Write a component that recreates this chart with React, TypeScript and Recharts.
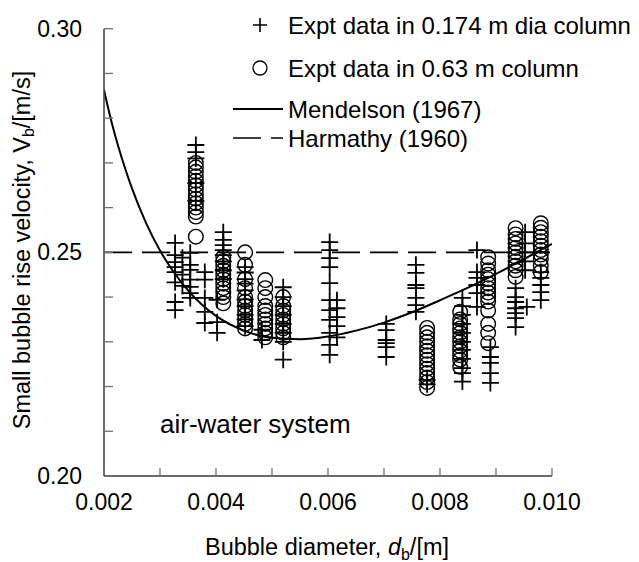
import React from 'react';
import { ComposedChart, Scatter, Line, XAxis, YAxis, Customized } from 'recharts';

const FONT = '"Liberation Sans", Arial, Helvetica, sans-serif';

// Axis ticks
const xTicks = [0.002, 0.003, 0.004, 0.005, 0.006, 0.007, 0.008, 0.009, 0.01];
const xTickLabels = ['0.002', '', '0.004', '', '0.006', '', '0.008', '', '0.010'];
const yTicks = [0.2, 0.21, 0.22, 0.23, 0.24, 0.25, 0.26, 0.27, 0.28, 0.29, 0.3];
const yTickLabels = ['0.20', '', '', '', '', '0.25', '', '', '', '', '0.30'];

// Expt data in 0.174 m dia column  [d (m), Vb (m/s)]
const plus174: [number, number][] = [
  [0.00327, 0.2521], [0.00327, 0.2494], [0.00327, 0.2478], [0.00327, 0.2467], [0.00327, 0.2456],
  [0.00327, 0.2433], [0.00327, 0.2389], [0.00327, 0.2371],
  [0.0034, 0.2488], [0.0034, 0.245], [0.0034, 0.2425],
  [0.00354, 0.2499], [0.00354, 0.2472], [0.00354, 0.2461], [0.00354, 0.2439], [0.00354, 0.2423],
  [0.00354, 0.2409], [0.00354, 0.2398],
  [0.00364, 0.274], [0.00364, 0.2724], [0.00364, 0.271], [0.00364, 0.2655], [0.00364, 0.2615],
  [0.0038, 0.2456], [0.0038, 0.2439], [0.0038, 0.2398], [0.0038, 0.2367], [0.0038, 0.2342],
  [0.00402, 0.2394], [0.00402, 0.2344], [0.00402, 0.232],
  [0.00413, 0.2545], [0.00413, 0.2528], [0.00413, 0.2516], [0.00413, 0.2505], [0.00413, 0.2494],
  [0.00413, 0.248], [0.00413, 0.246], [0.00413, 0.244],
  [0.00452, 0.2467], [0.00452, 0.2455], [0.00452, 0.244], [0.00452, 0.243], [0.00452, 0.2415],
  [0.00452, 0.2395], [0.00452, 0.238], [0.00452, 0.236], [0.00452, 0.235], [0.00452, 0.2335],
  [0.00482, 0.2327], [0.00482, 0.2304],
  [0.0052, 0.2422], [0.0052, 0.24], [0.0052, 0.238], [0.0052, 0.236], [0.0052, 0.234],
  [0.0052, 0.232], [0.0052, 0.23], [0.0052, 0.226],
  [0.00603, 0.2523], [0.00603, 0.2505], [0.00603, 0.2487], [0.00603, 0.2467], [0.00603, 0.2431],
  [0.00603, 0.2393], [0.00603, 0.2371], [0.00603, 0.2349], [0.00603, 0.232], [0.00603, 0.2293],
  [0.00603, 0.2271],
  [0.00616, 0.2393], [0.00616, 0.2375], [0.00616, 0.2355], [0.00616, 0.2335], [0.00616, 0.231],
  [0.00704, 0.234], [0.00704, 0.2326], [0.00704, 0.2304], [0.00704, 0.2297], [0.00704, 0.2288],
  [0.00704, 0.2266],
  [0.00757, 0.2472], [0.00757, 0.2454], [0.00757, 0.2427], [0.00757, 0.242], [0.00757, 0.2398],
  [0.00757, 0.2382], [0.00757, 0.2367],
  [0.00777, 0.2215], [0.00777, 0.2205],
  [0.0084, 0.2398], [0.0084, 0.238], [0.0084, 0.236], [0.0084, 0.234], [0.0084, 0.232],
  [0.0084, 0.23], [0.0084, 0.2282], [0.0084, 0.2262], [0.0084, 0.2241], [0.0084, 0.223], [0.0084, 0.2211],
  [0.00866, 0.2505], [0.00866, 0.2456], [0.00866, 0.2443], [0.00866, 0.2427], [0.00866, 0.2409],
  [0.00866, 0.2378],
  [0.0089, 0.2288], [0.0089, 0.2266], [0.0089, 0.2253], [0.0089, 0.223], [0.0089, 0.2208],
  [0.00935, 0.242], [0.00935, 0.24], [0.00935, 0.2389], [0.00935, 0.2375], [0.00935, 0.2364],
  [0.00935, 0.2353], [0.00935, 0.2333],
  [0.00952, 0.2545], [0.00952, 0.252], [0.00952, 0.25], [0.00952, 0.248], [0.00952, 0.246],
  [0.00955, 0.2378],
  [0.0098, 0.2456], [0.0098, 0.2443], [0.0098, 0.2427], [0.0098, 0.2411], [0.0098, 0.2393],
];

// Expt data in 0.63 m column  [d (m), Vb (m/s)]
const circle063: [number, number][] = [
  [0.00364, 0.27], [0.00364, 0.269], [0.00364, 0.268], [0.00364, 0.267], [0.00364, 0.266],
  [0.00364, 0.265], [0.00364, 0.264], [0.00364, 0.263], [0.00364, 0.262], [0.00364, 0.261],
  [0.00364, 0.26], [0.00364, 0.259], [0.00364, 0.258], [0.00364, 0.2535],
  [0.00413, 0.2489], [0.00413, 0.248], [0.00413, 0.247], [0.00413, 0.246], [0.00413, 0.245],
  [0.00413, 0.244], [0.00413, 0.243], [0.00413, 0.242], [0.00413, 0.241], [0.00413, 0.24],
  [0.00413, 0.2386],
  [0.00452, 0.25], [0.00452, 0.2472], [0.00452, 0.244], [0.00452, 0.242], [0.00452, 0.24],
  [0.00452, 0.239], [0.00452, 0.238], [0.00452, 0.237], [0.00452, 0.236], [0.00452, 0.235],
  [0.00452, 0.234], [0.00452, 0.233],
  [0.00488, 0.2438], [0.00488, 0.242], [0.00488, 0.24], [0.00488, 0.238], [0.00488, 0.237],
  [0.00488, 0.236], [0.00488, 0.235], [0.00488, 0.234], [0.00488, 0.233], [0.00488, 0.232],
  [0.00488, 0.231],
  [0.0052, 0.24], [0.0052, 0.238], [0.0052, 0.237], [0.0052, 0.236], [0.0052, 0.235],
  [0.0052, 0.234], [0.0052, 0.233], [0.0052, 0.232], [0.0052, 0.231],
  [0.00777, 0.2331], [0.00777, 0.232], [0.00777, 0.231], [0.00777, 0.23], [0.00777, 0.229],
  [0.00777, 0.228], [0.00777, 0.227], [0.00777, 0.226], [0.00777, 0.225], [0.00777, 0.224],
  [0.00777, 0.223], [0.00777, 0.222], [0.00777, 0.221], [0.00777, 0.2197],
  [0.00836, 0.2367], [0.00836, 0.235], [0.00836, 0.234], [0.00836, 0.233], [0.00836, 0.232],
  [0.00836, 0.231], [0.00836, 0.23], [0.00836, 0.229], [0.00836, 0.228], [0.00836, 0.227],
  [0.00836, 0.226], [0.00836, 0.2244],
  [0.00886, 0.2489], [0.00886, 0.2475], [0.00886, 0.246], [0.00886, 0.245], [0.00886, 0.244],
  [0.00886, 0.243], [0.00886, 0.242], [0.00886, 0.241], [0.00886, 0.24], [0.00886, 0.239],
  [0.00886, 0.237], [0.00886, 0.234], [0.00886, 0.232], [0.00886, 0.2297],
  [0.00935, 0.2554], [0.00935, 0.254], [0.00935, 0.253], [0.00935, 0.252], [0.00935, 0.251],
  [0.00935, 0.25], [0.00935, 0.249], [0.00935, 0.248], [0.00935, 0.247], [0.00935, 0.246],
  [0.00935, 0.2445],
  [0.0098, 0.2565], [0.0098, 0.2555], [0.0098, 0.2545], [0.0098, 0.2535], [0.0098, 0.2525],
  [0.0098, 0.2515], [0.0098, 0.2505], [0.0098, 0.2495], [0.0098, 0.2485], [0.0098, 0.247],
  [0.0098, 0.2456],
];

// Mendelson (1967) curve
const mendelsonD = [0.002, 0.00215, 0.00225, 0.0024, 0.0025, 0.00275, 0.003, 0.00325, 0.0035,
  0.00375, 0.004, 0.0045, 0.005, 0.0055, 0.006, 0.0065, 0.007, 0.0075, 0.008, 0.0085, 0.009, 0.0095, 0.01];
const mendelsonV = [0.2863, 0.2784, 0.2739, 0.2679, 0.2643, 0.2566, 0.2504, 0.2455, 0.2415,
  0.2383, 0.2358, 0.2325, 0.2309, 0.2306, 0.2312, 0.2325, 0.2343, 0.2366, 0.2393, 0.2421, 0.2452, 0.2485, 0.2519];

// Harmathy (1960) constant
const harmathyD = [0.002, 0.01];
const harmathyV = [0.25, 0.25];

const plusData = plus174.map(([d, v]) => ({ d, v }));
const circleData = circle063.map(([d, v]) => ({ d, v }));
const mendelsonData = mendelsonD.map((d, i) => ({ d, v: mendelsonV[i] }));
const harmathyData = harmathyD.map((d, i) => ({ d, v: harmathyV[i] }));

const DASH = '28 10';
const TICK_COLOR = '#6e6e6e';
const AXIS_COLOR = '#3a3a3a';

const PlusShape = (p: any) => {
  const { cx, cy } = p;
  if (cx == null || cy == null) return null;
  return <path d={`M${cx - 8.5},${cy}H${cx + 8.5}M${cx},${cy - 8.5}V${cy + 8.5}`} stroke="#000" strokeWidth={1.8} fill="none" />;
};

const CircleShape = (p: any) => {
  const { cx, cy } = p;
  if (cx == null || cy == null) return null;
  return <circle cx={cx} cy={cy} r={7.3} fill="none" stroke="#000" strokeWidth={1.4} />;
};

const labelFor = (ticks: number[], labels: string[], v: number) => {
  const i = ticks.findIndex((t) => Math.abs(t - v) < 1e-9);
  return i >= 0 ? labels[i] : '';
};

const YTick = (props: any) => {
  const { x, y, payload } = props;
  const label = labelFor(yTicks, yTickLabels, payload.value);
  return (
    <g>
      <line x1={x} x2={x + 9} y1={y} y2={y} stroke={TICK_COLOR} strokeWidth={1.3} />
      {label ? (
        <text x={x - 22} y={y + 8} textAnchor="end" fontSize={23} fontFamily={FONT} fill="#000">
          {label}
        </text>
      ) : null}
    </g>
  );
};

const XTick = (props: any) => {
  const { x, y, payload } = props;
  const label = labelFor(xTicks, xTickLabels, payload.value);
  return (
    <g>
      <line x1={x} x2={x} y1={y} y2={y - 8} stroke={TICK_COLOR} strokeWidth={1.3} />
      {label ? (
        <text x={x} y={y + 34} textAnchor="middle" fontSize={23} fontFamily={FONT} fill="#000">
          {label}
        </text>
      ) : null}
    </g>
  );
};

const Decorations = () => (
  <g fontFamily={FONT} fill="#000">
    {/* Legend */}
    <path d="M245,17H259M252,10V24" stroke="#000" strokeWidth={1.6} />
    <text x={280} y={25.5} fontSize={24}>Expt data in 0.174 m dia column</text>
    <circle cx={252} cy={60} r={7} fill="none" stroke="#000" strokeWidth={1.3} />
    <text x={280} y={68.5} fontSize={24}>Expt data in 0.63 m column</text>
    <line x1={225} x2={275} y1={101} y2={101} stroke="#000" strokeWidth={2} />
    <text x={280} y={110} fontSize={24}>Mendelson (1967)</text>
    <line x1={225} x2={275} y1={130} y2={130} stroke="#000" strokeWidth={1.6} strokeDasharray={DASH} />
    <text x={280} y={138.5} fontSize={24}>Harmathy (1960)</text>
    {/* Annotation */}
    <text x={152} y={425} fontSize={26}>air-water system</text>
    {/* Axis titles */}
    <text x={319} y={547} fontSize={23.5} textAnchor="middle">
      Bubble diameter, <tspan fontStyle="italic">d</tspan>
      <tspan fontSize={16} dy={5}>b</tspan>
      <tspan dy={-5}>/[m]</tspan>
    </text>
    <text x={14} y={242} fontSize={23.5} textAnchor="middle" transform="rotate(-90 14 242)" dominantBaseline="central">
      Small bubble rise velocity, V<tspan fontSize={16} dy={6}>b</tspan>
      <tspan dy={-6}>/[m/s]</tspan>
    </text>
  </g>
);

export default function App() {
  return (
    <ComposedChart
      width={631}
      height={554}
      margin={{ top: 20.7, right: 87, left: 0, bottom: 0 }}
      style={{ fontFamily: FONT }}
    >
      <XAxis
        dataKey="d"
        type="number"
        domain={[0.002, 0.01]}
        ticks={xTicks}
        interval={0}
        allowDataOverflow
        height={86}
        tickSize={0}
        tickMargin={0}
        tickLine={false}
        axisLine={{ stroke: AXIS_COLOR, strokeWidth: 1.5 }}
        tick={<XTick />}
      />
      <YAxis
        dataKey="v"
        type="number"
        domain={[0.2, 0.3]}
        ticks={yTicks}
        interval={0}
        allowDataOverflow
        width={96}
        tickSize={0}
        tickMargin={0}
        tickLine={false}
        axisLine={{ stroke: AXIS_COLOR, strokeWidth: 1.5 }}
        tick={<YTick />}
      />
      <Line
        data={harmathyData}
        dataKey="v"
        type="linear"
        stroke="#000"
        strokeWidth={1.6}
        strokeDasharray={DASH}
        dot={false}
        activeDot={false}
        isAnimationActive={false}
      />
      <Line
        data={mendelsonData}
        dataKey="v"
        type="monotone"
        stroke="#000"
        strokeWidth={2}
        dot={false}
        activeDot={false}
        isAnimationActive={false}
      />
      <Scatter data={circleData} dataKey="v" shape={<CircleShape />} isAnimationActive={false} />
      <Scatter data={plusData} dataKey="v" shape={<PlusShape />} isAnimationActive={false} />
      <Customized component={Decorations} />
    </ComposedChart>
  );
}
